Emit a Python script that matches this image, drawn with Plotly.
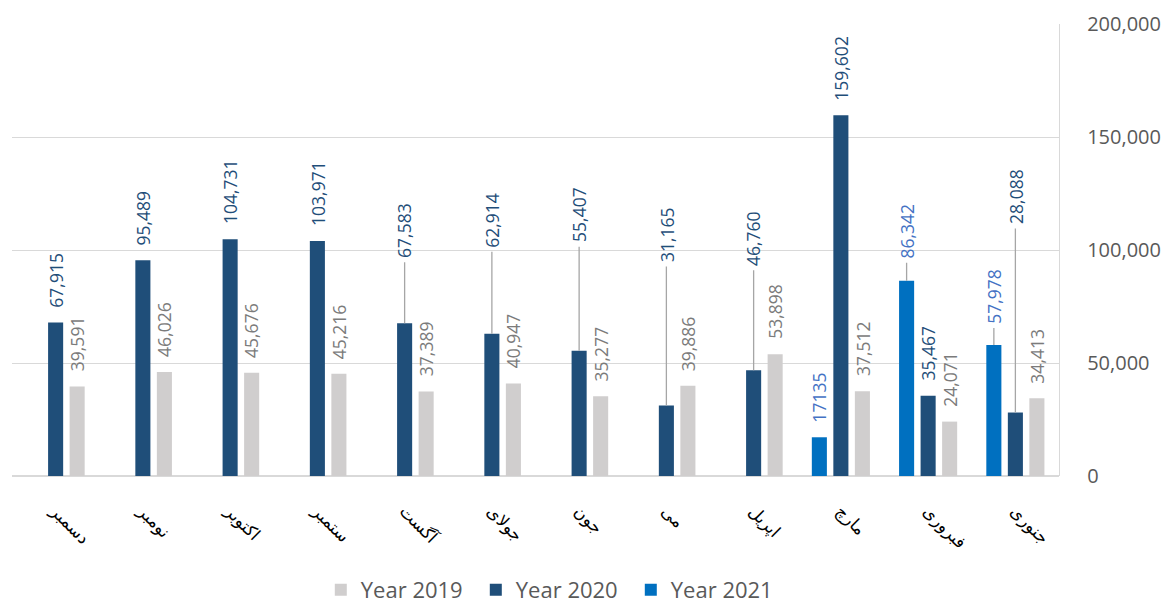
import plotly.graph_objects as go

# ---- data ----
months = ["جنوری", "فبروری", "مارچ", "اپریل", "می", "جون", "جولای",
          "آگست", "ستمبر", "اکتوبر", "نومبر", "دسمبر"]
year_2019 = [34413, 24071, 37512, 53898, 39886, 35277, 40947, 37389, 45216, 45676, 46026, 39591]
year_2020 = [28088, 35467, 159602, 46760, 31165, 55407, 62914, 67583, 103971, 104731, 95489, 67915]
year_2021 = [57978, 86342, 17135, None, None, None, None, None, None, None, None, None]
labels_2021 = ["57,978", "86,342", "17135"]

series = [
    ("Year 2019", year_2019, "#D0CECE", "#7B7B7B", 1),
    ("Year 2020", year_2020, "#1F4E79", "#1F4E79", 0),
    ("Year 2021", year_2021, "#0070C0", "#4472C4", -1),
]

# leader-line label offsets (pixels, label centre relative to bar top)
moved = {
    ("Year 2020", 0): -216,
    ("Year 2020", 3): -132,
    ("Year 2020", 4): -171,
    ("Year 2020", 5): -136,
    ("Year 2020", 6): -114,
    ("Year 2020", 7): -93,
    ("Year 2021", 0): -49,
    ("Year 2021", 1): -50,
}

# page has an 8px body margin, so the figure is drawn 8px smaller
W, H = 1162, 599
ML, MR, MT, MB = 4, 111, 16, 131
BARGAP, GROUPGAP = 0.26, 0.3
plot_w = W - ML - MR
slot_px = plot_w / len(months) * (1 - BARGAP) / 3

fig = go.Figure()
for name, vals, color, _, _ in series:
    fig.add_trace(go.Bar(name=name, x=months, y=vals, marker_color=color,
                         marker_line_width=0))

annotations = []
for name, vals, _, tcolor, k in series:
    for j, v in enumerate(vals):
        if v is None:
            continue
        txt = labels_2021[j] if name == "Year 2021" else f"{v:,}"
        base = dict(x=months[j], y=v, xref="x", yref="y", text=txt,
                    textangle=-90, xshift=k * slot_px,
                    font=dict(family="Open Sans", size=17.5, color=tcolor))
        if (name, j) in moved:
            base.update(showarrow=True, arrowhead=0, arrowwidth=1.3,
                        arrowcolor="#A6A6A6", ax=0, ay=moved[(name, j)],
                        standoff=0, borderpad=4)
        else:
            base.update(showarrow=False, yanchor="bottom", yshift=13)
        annotations.append(base)

fig.update_layout(
    width=W, height=H,
    margin=dict(l=ML, r=MR, t=MT, b=MB, autoexpand=False),
    plot_bgcolor="white", paper_bgcolor="white",
    barmode="group", bargap=BARGAP, bargroupgap=GROUPGAP,
    annotations=annotations,
    showlegend=True,
    legend=dict(orientation="h", x=0.517, xanchor="center", y=-0.252,
                yanchor="middle", font=dict(family="Open Sans", size=22, color="#595959"),
                traceorder="normal", entrywidth=110),
    xaxis=dict(type="category", autorange="reversed", tickangle=45,
               tickfont=dict(family="DejaVu Sans", size=17, color="black"),
               showgrid=False, showline=False, ticks="", ticklabelstandoff=21,
               automargin=False),
    yaxis=dict(side="right", range=[0, 200000], dtick=50000, tickformat=",",
               tickfont=dict(family="Open Sans", size=20, color="#595959"),
               gridcolor="#D9D9D9", gridwidth=1.4, zeroline=True,
               zerolinecolor="#D9D9D9", zerolinewidth=1.5,
               showline=True, linecolor="#D9D9D9", linewidth=1.4,
               ticks="", ticklabelstandoff=23, automargin=False),
)

fig.write_html("out.html")
